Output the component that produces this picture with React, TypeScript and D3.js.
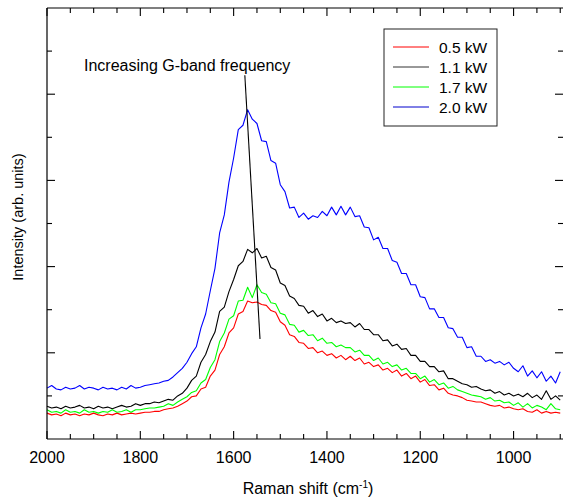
import React from 'react';
import * as d3 from 'd3';

// Raman shift grid (cm^-1), 10 cm^-1 steps from 2000 down to 900
const wavenumbers: number[] = d3.range(2000, 899, -10);

const intensity05 = [
  3.0, 2.8, 2.9, 2.7, 3.0, 2.8, 2.9, 2.7, 2.9, 2.8, 3.0, 2.8, 2.7, 2.9, 2.8, 3.0, 2.8, 2.9, 3.0, 2.9,
  3.0, 3.1, 3.1, 3.2, 3.2, 3.4, 3.5, 3.6, 3.8, 4.1, 4.4, 4.9, 5.0, 5.8, 6.0, 7.3, 8.0, 9.8, 10.7, 12.3,
  12.9, 14.5, 14.8, 16.0, 15.8, 15.9, 15.6, 15.5, 14.9, 14.7, 13.6, 13.2, 12.1, 11.9, 11.2, 11.1, 10.5, 10.6, 10.0, 10.2,
  9.7, 9.9, 9.4, 9.7, 9.2, 9.6, 9.1, 9.4, 8.7, 8.9, 8.4, 8.6, 8.0, 8.2, 7.7, 8.0, 7.3, 7.6, 7.0, 7.3,
  6.6, 6.9, 6.2, 6.3, 5.7, 5.9, 5.3, 5.1, 5.0, 4.8, 4.5, 4.4, 4.3, 4.3, 4.1, 3.9, 3.8, 3.9, 3.6, 3.7,
  3.5, 3.4, 3.5, 3.2, 3.1, 3.4, 3.0, 3.2, 3.0, 3.1, 3.0,
];

const intensity11 = [
  3.8, 3.6, 3.7, 3.5, 3.8, 3.6, 3.7, 3.9, 3.6, 3.7, 3.5, 3.8, 3.6, 3.7, 3.5, 3.7, 3.9, 3.7, 3.8, 4.1,
  3.9, 4.1, 4.1, 4.3, 4.2, 4.4, 4.6, 4.5, 5.0, 5.3, 5.9, 6.8, 7.3, 8.9, 9.8, 11.3, 12.4, 14.8, 15.3, 17.1,
  18.5, 20.1, 20.6, 22.0, 21.6, 22.1, 21.0, 21.2, 19.9, 19.6, 18.1, 17.8, 16.6, 16.3, 15.5, 15.4, 14.6, 14.9, 14.2, 14.5,
  13.7, 14.0, 13.5, 13.7, 13.4, 13.5, 13.0, 13.4, 12.7, 12.7, 12.1, 12.1, 11.4, 11.5, 10.8, 11.0, 10.4, 10.5, 9.7, 9.7,
  9.0, 9.0, 8.4, 8.4, 7.8, 7.9, 7.0, 7.0, 6.7, 6.4, 6.3, 6.0, 6.1, 5.8, 5.6, 5.7, 5.3, 5.5, 5.1, 5.3,
  5.0, 5.2, 4.9, 5.3, 4.8, 5.1, 4.6, 5.6, 4.6, 5.0, 4.5,
];

const intensity17 = [
  3.4, 3.1, 3.2, 3.0, 3.4, 3.1, 3.2, 3.0, 3.4, 3.1, 3.2, 3.0, 3.2, 3.1, 3.4, 3.1, 3.2, 3.4, 3.1, 3.4,
  3.4, 3.5, 3.6, 3.6, 3.7, 3.8, 4.1, 3.9, 4.3, 4.6, 4.9, 5.4, 5.6, 6.5, 6.9, 8.3, 9.2, 11.3, 12.3, 13.9,
  14.3, 16.0, 16.1, 17.6, 16.4, 17.9, 17.0, 16.8, 15.8, 15.7, 14.6, 14.4, 13.3, 13.2, 12.4, 12.6, 12.0, 12.1, 11.4, 11.7,
  11.1, 11.2, 10.7, 10.9, 10.6, 10.6, 10.1, 10.3, 9.7, 9.7, 9.1, 9.4, 8.7, 8.9, 8.4, 8.6, 8.0, 8.2, 7.6, 7.6,
  7.0, 7.3, 6.6, 6.9, 6.3, 6.5, 5.9, 6.1, 5.7, 5.5, 5.3, 5.1, 5.0, 4.9, 4.6, 4.8, 4.4, 4.5, 4.2, 4.3,
  3.9, 4.2, 3.7, 4.1, 3.6, 3.9, 3.7, 3.4, 4.1, 3.5, 3.4,
];

const intensity20 = [
  5.9, 6.2, 5.8, 5.7, 6.0, 5.8, 5.9, 6.2, 5.8, 6.0, 5.9, 5.7, 6.0, 5.8, 5.9, 5.7, 6.0, 5.8, 6.2, 5.9,
  6.0, 6.2, 6.3, 6.4, 6.5, 6.7, 6.8, 7.2, 7.7, 8.2, 8.9, 9.9, 10.7, 12.9, 14.5, 17.2, 19.8, 23.9, 26.0, 29.8,
  32.6, 35.9, 36.4, 38.2, 37.1, 36.6, 34.6, 34.5, 32.3, 32.0, 29.5, 28.7, 26.8, 26.9, 25.7, 26.2, 25.5, 25.9, 25.7, 26.4,
  25.9, 26.9, 26.0, 27.0, 26.0, 26.9, 25.8, 25.9, 24.6, 24.5, 23.1, 23.4, 22.1, 22.1, 20.7, 20.5, 19.2, 19.2, 17.9, 17.9,
  16.5, 16.4, 15.1, 15.1, 14.1, 14.1, 12.9, 12.8, 11.8, 11.8, 10.6, 10.7, 9.6, 9.6, 9.0, 9.2, 8.8, 9.0, 8.6, 8.9,
  8.2, 7.8, 8.5, 7.3, 7.9, 7.1, 7.8, 6.7, 7.3, 6.5, 7.8,
];

const seriesLabels = ['0.5 kW', '1.1 kW', '1.7 kW', '2.0 kW'];
const seriesColors = ['#ff0000', '#000000', '#00ff00', '#0000ff'];
const legendColors = ['#ff0000', '#333333', '#00ff00', '#0000cc'];
const seriesValues = [intensity05, intensity11, intensity17, intensity20];

const xMajorTicks = [2000, 1800, 1600, 1400, 1200, 1000];
const xMinorTicks = d3.range(1950, 893, -50).filter((v) => v % 200 !== 0);
const yMajorTicks = [10, 20, 30, 40];
const yMinorTicks = [5, 15, 25, 35, 45];

// Annotation arrow (data coordinates)
const annotationShift = [1576, 1543.5];
const annotationIntensity = [42.2, 11.6];
const annotationText = 'Increasing G-band frequency';

const W = 563;
const H = 498;
const M = { left: 47, right: 563.5, top: 8, bottom: 439 };
const FONT = '"Liberation Sans", Arial, Helvetica, sans-serif';

export default function App() {
  const x = d3.scaleLinear().domain([2000, 893]).range([M.left, M.right]);
  const y = d3.scaleLinear().domain([0, 50]).range([M.bottom, M.top]);

  const line = d3
    .line<[number, number]>()
    .x((d) => x(d[0]))
    .y((d) => y(d[1]));

  const paths = seriesValues.map((vals) => {
    const n = Math.min(vals.length, wavenumbers.length);
    const pts: [number, number][] = [];
    for (let i = 0; i < n; i++) pts.push([wavenumbers[i], vals[i]]);
    return line(pts) || '';
  });

  const majLen = 8;
  const minLen = 5;
  const rightTickX = 563;

  const legendX = 384;
  const legendY = 29;
  const legendW = 113;
  const legendH = 97;
  const rowYs = [47, 67, 87, 107];

  return (
    <svg
      width={W}
      height={H}
      style={{ position: 'absolute', left: 0, top: 0, background: '#fff' }}
      fontFamily={FONT}
    >
      <rect x={0} y={0} width={W} height={H} fill="#ffffff" />
      {/* series */}
      <g fill="none" strokeWidth={1.1} strokeLinejoin="round">
        {paths.map((d, i) => (
          <path key={i} d={d} stroke={seriesColors[i]} />
        ))}
      </g>

      {/* annotation line */}
      <line
        x1={x(annotationShift[0])}
        y1={y(annotationIntensity[0])}
        x2={x(annotationShift[1])}
        y2={y(annotationIntensity[1])}
        stroke="#000"
        strokeWidth={1.1}
      />
      <text x={84} y={71} fontSize={16} fill="#000">
        {annotationText}
      </text>

      {/* frame (right edge lies just outside the picture) */}
      <g stroke="#000" strokeWidth={1.2} fill="none">
        <line x1={M.left} y1={M.top} x2={M.left} y2={M.bottom} />
        <line x1={M.left} y1={M.bottom} x2={W} y2={M.bottom} />
        <line x1={M.left} y1={M.top} x2={W} y2={M.top} />
      </g>

      {/* ticks */}
      <g stroke="#000" strokeWidth={1.1}>
        {xMajorTicks.map((t) => (
          <g key={'xm' + t}>
            <line x1={x(t)} x2={x(t)} y1={M.bottom} y2={M.bottom - majLen} />
            <line x1={x(t)} x2={x(t)} y1={M.top} y2={M.top + majLen} />
          </g>
        ))}
        {xMinorTicks.map((t) => (
          <g key={'xn' + t}>
            <line x1={x(t)} x2={x(t)} y1={M.bottom} y2={M.bottom - minLen} />
            <line x1={x(t)} x2={x(t)} y1={M.top} y2={M.top + minLen} />
          </g>
        ))}
        {yMajorTicks.map((t) => (
          <g key={'ym' + t}>
            <line x1={M.left} x2={M.left + majLen} y1={y(t)} y2={y(t)} />
            <line x1={rightTickX} x2={rightTickX - majLen} y1={y(t)} y2={y(t)} />
          </g>
        ))}
        {yMinorTicks.map((t) => (
          <g key={'yn' + t}>
            <line x1={M.left} x2={M.left + minLen} y1={y(t)} y2={y(t)} />
            <line x1={rightTickX} x2={rightTickX - minLen} y1={y(t)} y2={y(t)} />
          </g>
        ))}
      </g>

      {/* x tick labels */}
      <g fontSize={16} fill="#000" textAnchor="middle">
        {xMajorTicks.map((t) => (
          <text key={'xl' + t} x={x(t)} y={463}>
            {t}
          </text>
        ))}
      </g>

      {/* axis titles */}
      <text x={308} y={494} fontSize={16} textAnchor="middle" fill="#000">
        Raman shift (cm
        <tspan dy={-6} fontSize={10}>-1</tspan>
        <tspan dy={6}>)</tspan>
      </text>
      <text
        transform={`translate(23, 217) rotate(-90)`}
        fontSize={14.5}
        textAnchor="middle"
        fill="#000"
      >
        Intensity (arb. units)
      </text>

      {/* legend */}
      <rect
        x={legendX}
        y={legendY}
        width={legendW}
        height={legendH}
        fill="#fff"
        stroke="#222"
        strokeWidth={1}
      />
      {seriesLabels.map((lab, i) => (
        <g key={lab}>
          <line x1={393} x2={429} y1={rowYs[i]} y2={rowYs[i]} stroke={legendColors[i]} strokeWidth={1} />
          <text x={439} y={rowYs[i] + 5.5} fontSize={15.5} fill="#000">
            {lab}
          </text>
        </g>
      ))}
    </svg>
  );
}
